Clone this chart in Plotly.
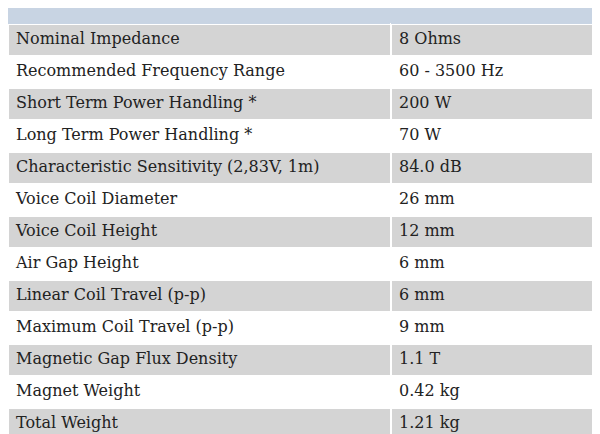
import plotly.graph_objects as go

params = ["Nominal Impedance", "Recommended Frequency Range", "Short Term Power Handling *",
          "Long Term Power Handling *", "Characteristic Sensitivity (2,83V, 1m)", "Voice Coil Diameter",
          "Voice Coil Height", "Air Gap Height", "Linear Coil Travel (p-p)", "Maximum Coil Travel (p-p)",
          "Magnetic Gap Flux Density", "Magnet Weight", "Total Weight"]
values = ["8 Ohms", "60 - 3500 Hz", "200 W", "70 W", "84.0 dB", "26 mm", "12 mm", "6 mm",
          "6 mm", "9 mm", "1.1 T", "0.42 kg", "1.21 kg"]

fills = ["#d4d4d4" if i % 2 == 0 else "#ffffff" for i in range(len(params))]

fig = go.Figure(go.Table(
    columnwidth=[383, 217],
    domain=dict(x=[0, 1], y=[0, 1]),
    header=dict(values=[], height=0, line=dict(width=0)),
    cells=dict(
        values=[params, values],
        fill_color=[fills, fills],
        line=dict(color="white", width=2),
        align=["left", "left"],
        height=32,
        font=dict(family="DejaVu Serif", size=16, color="#222222"),
    ),
))
fig.update_layout(width=600, height=434, margin=dict(l=0, r=0, t=0, b=0), paper_bgcolor="white")
fig.write_html("out.html")
